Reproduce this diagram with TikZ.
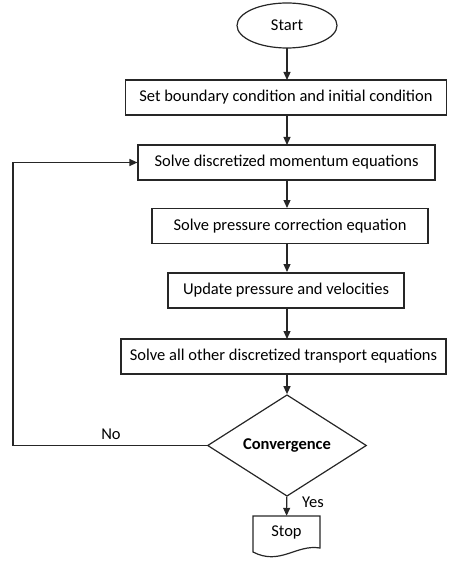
\documentclass[tikz,border=0pt]{standalone}
\usepackage{fontspec}
\setmainfont{Carlito}
\usetikzlibrary{shapes.geometric,arrows.meta}

\begin{document}
\begin{tikzpicture}[x=1pt, y=-1pt,
	stepbox/.style={rectangle, draw=black!85, line width=1.2pt, minimum height=35pt, inner sep=0pt},
	flow/.style={-{Triangle[length=8pt,width=7pt]}, line width=1.2pt, draw=black!85},
	font=\fontsize{16.5}{19}\selectfont]
	\useasboundingbox (0,0) rectangle (448,561);

	\node[ellipse, draw=black!85, line width=1.2pt, minimum width=100pt, minimum height=45pt] (start) at (287,25.5) {Start};
	\node[stepbox, minimum width=321pt] (init) at (286,97.5) {Set boundary condition and initial condition};
	\node[stepbox, minimum width=297pt] (mom) at (286.5,162.5) {Solve discretized momentum equations};
	\node[stepbox, minimum width=276pt] (pcor) at (290,226) {Solve pressure correction equation};
	\node[stepbox, minimum width=236pt] (upd) at (286,290.5) {Update pressure and velocities};
	\node[stepbox, minimum width=325pt] (trans) at (283.5,356.5) {Solve all other discretized transport equations};
	\node[diamond, draw=black!85, line width=1.2pt, minimum width=159pt, minimum height=85pt, inner sep=0pt, font=\fontsize{16.5}{19}\selectfont\bfseries] (conv) at (287,445.5) {Convergence};
	\node[minimum width=67pt, minimum height=32pt, inner sep=0pt] (stop) at (286.5,532) {Stop};
	\draw[draw=black!85, line width=1.2pt] (253,516) -- (320,516) -- (320,548)
		.. controls (296,544) and (280,566) .. (253,552) -- cycle;

	\coordinate (lbot) at (13,445.5);
	\coordinate (ltop) at (13,162.5);

	\draw[flow] (287,48) -- (287,80);
	\draw[flow] (287,115) -- (287,145);
	\draw[flow] (287,180) -- (287,208);
	\draw[flow] (287,244) -- (287,272);
	\draw[flow] (287,309) -- (287,339);
	\draw[flow] (287,374) -- (conv);
	\draw[flow] (conv) -- (stop);
	\draw[flow] (conv.west) -- (lbot) -- (ltop) -- (mom.west);

	\node (no) at (111,434) {No};
	\node (yes) at (313,502) {Yes};
\end{tikzpicture}
\end{document}
